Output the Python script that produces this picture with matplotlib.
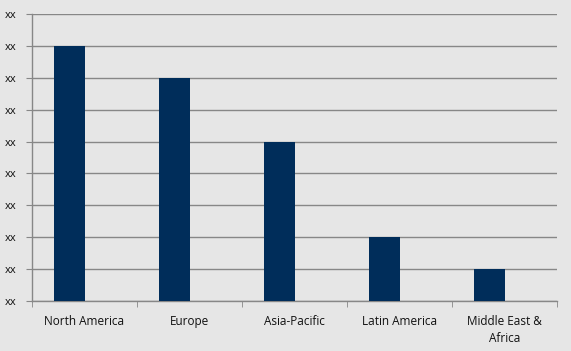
import matplotlib
matplotlib.use("Agg")
import matplotlib.pyplot as plt
from matplotlib.ticker import FixedLocator

regions = ["North America", "Europe", "Asia-Pacific", "Latin America", "Middle East &\nAfrica"]
values = [8, 7, 5, 2, 1]
y_ticks = list(range(0, 10))
y_labels = ["xx"] * len(y_ticks)

bg = "#e6e6e6"
bar_color = "#002d5a"
grid_color = "#878787"

fig = plt.figure(figsize=(5.71, 3.51), dpi=100, facecolor=bg)
ax = fig.add_axes([32 / 571, 50 / 351, 525 / 571, 287 / 351], facecolor=bg)

x = list(range(len(regions)))
# bars sit just left of the category centre (like an empty second series)
bw = 0.286
ax.bar([i - bw / 2 for i in x], values, width=bw, color=bar_color, zorder=3)

ax.set_xlim(-0.5, len(regions) - 0.5)
ax.set_ylim(0, 9)
ax.set_yticks(y_ticks)
ax.set_yticklabels(y_labels, fontsize=8, family="Open Sans", color="#111111")
ax.set_xticks(x)
ax.set_xticklabels(regions, fontsize=8.5, family="Open Sans", linespacing=1.45,
                   color="#111111")
ax.xaxis.set_minor_locator(FixedLocator([i - 0.5 for i in range(len(regions) + 1)]))

ax.tick_params(axis="x", which="major", length=0, pad=10)
ax.tick_params(axis="x", which="minor", length=4, color=grid_color, direction="out")
ax.tick_params(axis="y", length=4, color=grid_color, pad=7)

ax.grid(axis="y", color=grid_color, linewidth=1, zorder=0)
for side in ["top", "right"]:
    ax.spines[side].set_visible(False)
for side in ["left", "bottom"]:
    ax.spines[side].set_color(grid_color)
    ax.spines[side].set_linewidth(1)

fig.savefig("out.png", dpi=100, facecolor=bg)
